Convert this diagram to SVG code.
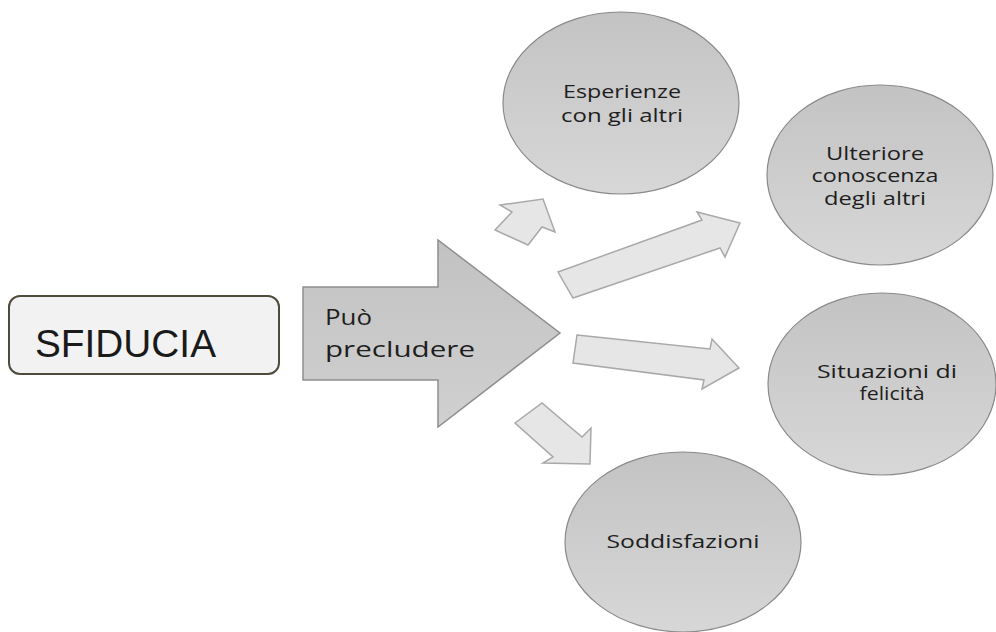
<svg xmlns="http://www.w3.org/2000/svg" width="996" height="632" viewBox="0 0 996 632">
<style>
.lbl{font-family:"Open Sans","Liberation Sans",sans-serif;fill:#1e1e1e;text-anchor:middle}
.ell{fill:url(#eg);stroke:#8a8a8a;stroke-width:1.2}
.sm{fill:#e6e6e6;stroke:#a9a9a9;stroke-width:1.5}
</style>
<defs>
<linearGradient id="eg" x1="0" y1="0" x2="0" y2="1">
<stop offset="0" stop-color="#c3c3c3"/>
<stop offset="1" stop-color="#d7d7d7"/>
</linearGradient>
<linearGradient id="ag" x1="0" y1="0" x2="0" y2="1">
<stop offset="0" stop-color="#c2c2c2"/>
<stop offset="1" stop-color="#d0d0d0"/>
</linearGradient>
</defs>
<rect width="996" height="632" fill="#fff"/>

<g id="sfiducia">
<rect x="9" y="296" width="270" height="78" rx="11" fill="#f2f2f2" stroke="#4f4b3a" stroke-width="2"/>
<text x="35" y="357" font-family="'Liberation Sans','Open Sans',sans-serif" font-size="39" fill="#1a1a1a" textLength="181" lengthAdjust="spacingAndGlyphs">SFIDUCIA</text>
</g>

<g id="precludere">
<polygon points="303,287 438,287 438,240 560,333 438,427 438,380 303,380" fill="url(#ag)" stroke="#8e8e8e" stroke-width="1.5"/>
<text x="325" y="325" font-family="'Open Sans','Liberation Sans',sans-serif" font-size="21" fill="#1e1e1e" textLength="47" lengthAdjust="spacingAndGlyphs">Può</text>
<text x="325" y="357" font-family="'Open Sans','Liberation Sans',sans-serif" font-size="21" fill="#1e1e1e" textLength="150" lengthAdjust="spacingAndGlyphs">precludere</text>
</g>

<g id="connectors">
<polygon class="sm" points="500,205 543,199 555,232 542,227 528,245 495,230 512,212"/>
<polygon class="sm" points="558,272 702,220 697,212 740,223 725,257 720,248 573,298"/>
<polygon class="sm" points="577,335 710,349 712,339 739,368 702,389 704,380 573,363"/>
<polygon class="sm" points="515,423 542,403 582,437 591,428 590,464 543,463 553,457"/>
</g>

<g id="esperienze">
<ellipse class="ell" cx="621" cy="103" rx="118" ry="91"/>
<text class="lbl" x="622" y="98" font-size="18" textLength="118" lengthAdjust="spacingAndGlyphs">Esperienze</text>
<text class="lbl" x="622" y="122" font-size="18" textLength="122" lengthAdjust="spacingAndGlyphs">con gli altri</text>
</g>

<g id="ulteriore">
<ellipse class="ell" cx="880" cy="175" rx="113" ry="90"/>
<text class="lbl" x="875" y="160" font-size="18" textLength="98" lengthAdjust="spacingAndGlyphs">Ulteriore</text>
<text class="lbl" x="875" y="182" font-size="18" textLength="127" lengthAdjust="spacingAndGlyphs">conoscenza</text>
<text class="lbl" x="875" y="205" font-size="18" textLength="102" lengthAdjust="spacingAndGlyphs">degli altri</text>
</g>

<g id="felicita">
<ellipse class="ell" cx="882" cy="384" rx="114" ry="91"/>
<text class="lbl" x="887" y="378" font-size="18" textLength="140" lengthAdjust="spacingAndGlyphs">Situazioni di</text>
<text class="lbl" x="892" y="400" font-size="18" textLength="65" lengthAdjust="spacingAndGlyphs">felicità</text>
</g>

<g id="soddisfazioni">
<ellipse class="ell" cx="683" cy="542" rx="118" ry="90"/>
<text class="lbl" x="683" y="548" font-size="18" textLength="153" lengthAdjust="spacingAndGlyphs">Soddisfazioni</text>
</g>
</svg>
